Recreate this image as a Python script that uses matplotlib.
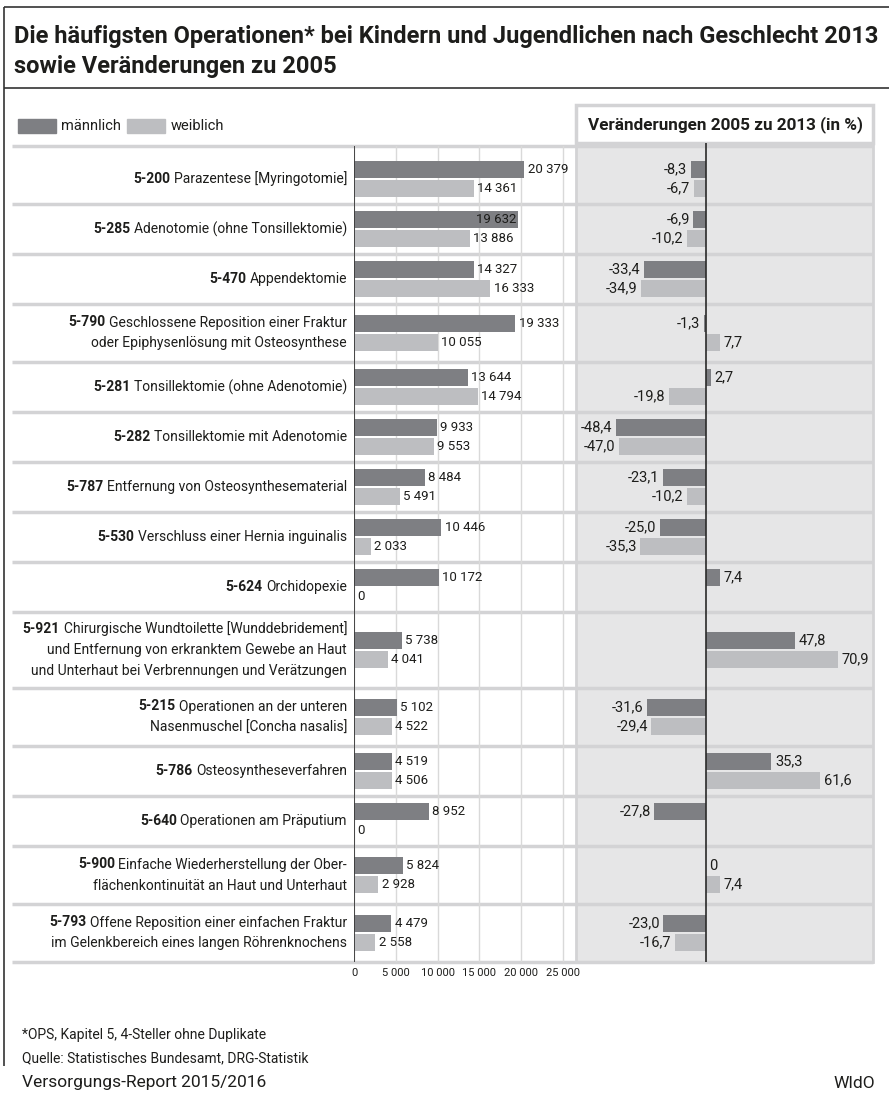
import matplotlib.pyplot as plt
from matplotlib.patches import Rectangle

plt.rcParams['font.family'] = ['Roboto', 'DejaVu Sans']

codes = ['5-200', '5-285', '5-470', '5-790', '5-281', '5-282', '5-787', '5-530',
         '5-624', '5-921', '5-215', '5-786', '5-640', '5-900', '5-793']
descriptions = [
    'Parazentese [Myringotomie]',
    'Adenotomie (ohne Tonsillektomie)',
    'Appendektomie',
    'Geschlossene Reposition einer Fraktur\noder Epiphysenlösung mit Osteosynthese',
    'Tonsillektomie (ohne Adenotomie)',
    'Tonsillektomie mit Adenotomie',
    'Entfernung von Osteosynthesematerial',
    'Verschluss einer Hernia inguinalis',
    'Orchidopexie',
    'Chirurgische Wundtoilette [Wunddebridement]\nund Entfernung von erkranktem Gewebe an Haut\nund Unterhaut bei Verbrennungen und Verätzungen',
    'Operationen an der unteren\nNasenmuschel [Concha nasalis]',
    'Osteosyntheseverfahren',
    'Operationen am Präputium',
    'Einfache Wiederherstellung der Ober-\nflächenkontinuität an Haut und Unterhaut',
    'Offene Reposition einer einfachen Fraktur\nim Gelenkbereich eines langen Röhrenknochens',
]
male = [20379, 19632, 14327, 19333, 13644, 9933, 8484, 10446, 10172, 5738, 5102, 4519, 8952, 5824, 4479]
female = [14361, 13886, 16333, 10055, 14794, 9553, 5491, 2033, 0, 4041, 4522, 4506, 0, 2928, 2558]
change_male = [-8.3, -6.9, -33.4, -1.3, 2.7, -48.4, -23.1, -25.0, 7.4, 47.8, -31.6, 35.3, -27.8, 0.0, -23.0]
change_female = [-6.7, -10.2, -34.9, 7.7, -19.8, -47.0, -10.2, -35.3, None, 70.9, -29.4, 61.6, None, 7.4, -16.7]
xticks = [0, 5000, 10000, 15000, 20000, 25000]
title = ['Die häufigsten Operationen* bei Kindern und Jugendlichen nach Geschlecht 2013',
         'sowie Veränderungen zu 2005']

DARK = '#7e7f83'
LIGHT = '#bdbec1'
PANEL = '#e6e6e7'
SEP = '#d3d3d5'
TXT = '#1d1d1b'

W, H = 889, 1095
fig = plt.figure(figsize=(W / 100, H / 100), dpi=100)
bg = fig.add_axes([0, 0, 1, 1])
bg.set_xlim(0, W)
bg.set_ylim(H, 0)
bg.axis('off')
fig.canvas.draw()
renderer = fig.canvas.get_renderer()


def frac(x0, y0, x1, y1):
    return [x0 / W, 1 - y1 / H, (x1 - x0) / W, (y1 - y0) / H]


def width(t):
    return t.get_window_extent(renderer).width


# row layout (pixels from top), height depends on number of label lines
row_h = {1: 50, 2: 58, 3: 76}
top, y = 146, 154
centers, bounds = [], [top]
for d in descriptions:
    h = row_h[d.count('\n') + 1]
    centers.append(y + h / 2)
    y += h
    bounds.append(y)
bottom = y
bar_h, gap = 17, 2

# frame + title
bg.hlines([7, 88], 4, W, color='#333333', lw=1.2)
bg.vlines(4, 7, 1066, color='#333333', lw=1.2)
t = bg.text(14, 36, title[0], fontsize=16, weight='bold', va='center', color=TXT)
tfs = 16 * 866 / width(t)
t.set_fontsize(tfs)
bg.text(14, 66, title[1], fontsize=tfs, weight='bold', va='center', color=TXT)

# legend
bg.add_patch(Rectangle((18, 119), 38, 14, color=DARK))
bg.text(61, 126, 'männlich', fontsize=10.5, va='center', color=TXT)
bg.add_patch(Rectangle((127, 119), 38, 14, color=LIGHT))
bg.text(171, 126, 'weiblich', fontsize=10.5, va='center', color=TXT)

# right panel background + header
bg.add_patch(Rectangle((576, 143), 297, bottom - 143, facecolor=PANEL, edgecolor=SEP, lw=2))
bg.add_patch(Rectangle((576, 105), 297, 38, facecolor='white', edgecolor=SEP, lw=2.5))
bg.text(725, 125, 'Veränderungen 2005 zu 2013 (in %)', fontsize=12.3, weight='bold',
        ha='center', va='center', color=TXT)

# row separators
bg.hlines(bounds, 12, 873, color=SEP, lw=2.5)

# category labels: bold code + regular text, right aligned; shrink to fit 18..347
t = bg.text(0, 0, codes[9] + ' ' + descriptions[9].split('\n')[0], fontsize=10.5)
lfs = min(10.5, 10.5 * 322 / width(t))
t.remove()
for code, desc, c in zip(codes, descriptions, centers):
    lines = desc.split('\n')
    n = len(lines)
    for i, line in enumerate(lines):
        ly = c + (i - (n - 1) / 2) * 21
        t = bg.text(347, ly, line, fontsize=lfs, ha='right', va='center', color=TXT)
        if i == 0:
            bg.text(347 - width(t) - 3.5, ly, code, fontsize=lfs, weight='bold',
                    ha='right', va='center', color=TXT)

# left chart: absolute numbers
ax1 = fig.add_axes(frac(354, top, 577, bottom))
ax1.set_facecolor('none')
ax1.set_xlim(0, 26700)
ax1.set_ylim(bottom, top)
ym = [c - (bar_h + gap) / 2 for c in centers]
yf = [c + (bar_h + gap) / 2 for c in centers]
ax1.barh(ym, male, height=bar_h, color=DARK, zorder=3)
ax1.barh(yf, female, height=bar_h, color=LIGHT, zorder=3)
ax1.set_xticks(xticks)
ax1.set_xticklabels([f'{v:,}'.replace(',', ' ') for v in xticks], fontsize=8, color=TXT)
ax1.tick_params(axis='x', length=0, pad=4)
ax1.set_yticks([])
ax1.grid(axis='x', color='#d9d9d9', lw=1, zorder=0)
ax1.axvline(0, color='#3a3a3a', lw=1.3, zorder=4)
for s in ax1.spines.values():
    s.set_visible(False)

for k, (vals, ys) in enumerate([(male, ym), (female, yf)]):
    for i, (v, yy) in enumerate(zip(vals, ys)):
        label = f'{v:,}'.replace(',', ' ')
        if k == 0 and codes[i] == '5-285':
            ax1.annotate(label, (v, yy), xytext=(-1, 0), textcoords='offset points',
                         ha='right', va='center', fontsize=9.5, color=TXT, zorder=5)
        else:
            ax1.annotate(label, (v, yy), xytext=(2.5, 0), textcoords='offset points',
                         ha='left', va='center', fontsize=9.5, color=TXT, zorder=5)

# right chart: change 2005 -> 2013
ax2 = fig.add_axes(frac(576, 143, 873, bottom))
ax2.set_facecolor('none')
ax2.set_xlim(-70, 90)
ax2.set_ylim(bottom, 143)
ax2.axis('off')
ax2.axvline(0, color='#2a2a2a', lw=1.2, zorder=4)
for vals, ys, col in [(change_male, ym, DARK), (change_female, yf, LIGHT)]:
    for v, yy in zip(vals, ys):
        if v is None:
            continue
        ax2.barh(yy, v, height=bar_h, color=col, zorder=3)
        label = '0' if v == 0 else f'{v:.1f}'.replace('.', ',')
        if v < 0:
            ax2.annotate(label, (v, yy), xytext=(-2.5, 0), textcoords='offset points',
                         ha='right', va='center', fontsize=10.5, color=TXT)
        else:
            ax2.annotate(label, (v, yy), xytext=(2.5, 0), textcoords='offset points',
                         ha='left', va='center', fontsize=10.5, color=TXT)

# footer
bg.text(22, 1035, '*OPS, Kapitel 5, 4-Steller ohne Duplikate', fontsize=10, va='center', color=TXT)
bg.text(22, 1058, 'Quelle: Statistisches Bundesamt, DRG-Statistik', fontsize=10, va='center', color=TXT)
bg.text(22, 1083, 'Versorgungs-Report 2015/2016', fontsize=12.5, va='center', color=TXT)
bg.text(875, 1083, 'WIdO', fontsize=12.5, ha='right', va='center', color=TXT)

fig.savefig('out.png', dpi=100)
